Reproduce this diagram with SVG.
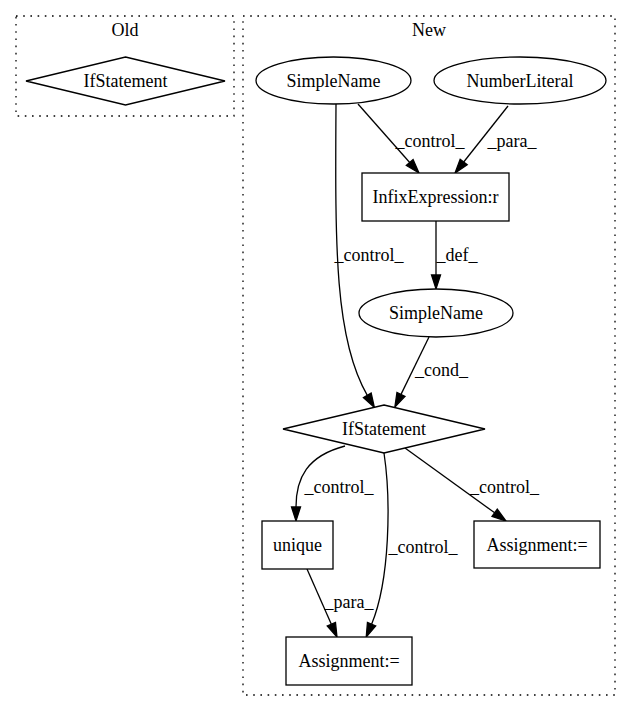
<svg xmlns="http://www.w3.org/2000/svg" width="632" height="712" viewBox="0 0 632 712">
<style>
.cl{fill:none;stroke:#000;stroke-width:1.3;stroke-dasharray:1.6,5.6}
.nd{fill:#fff;stroke:#000;stroke-width:1.3}
.e{fill:none;stroke:#000;stroke-width:1.3}
text{font-family:"Liberation Serif","Times New Roman",serif;font-size:18px;fill:#000;text-anchor:middle}
</style>
<defs>
<marker id="ah" markerUnits="userSpaceOnUse" markerWidth="16" markerHeight="12" refX="0" refY="5" orient="auto" overflow="visible">
<path d="M0,0.5 L14,5 L0,9.5 z" fill="#000" stroke="#000" stroke-width="1.3"/>
</marker>
</defs>
<rect width="632" height="712" fill="#fff"/>
<g id="cluster_old">
<rect class="cl" x="16" y="16" width="218" height="100"/>
<text x="125" y="36">Old</text>
</g>
<g id="cluster_new">
<rect class="cl" x="243" y="16" width="372" height="679"/>
<text x="429" y="36">New</text>
</g>
<g id="edges">
<path class="e" d="M358,104 L409.7,162.5" marker-end="url(#ah)"/>
<text x="430" y="147">_control_</text>
<path class="e" d="M508,106 L463.7,162" marker-end="url(#ah)"/>
<text x="512" y="147">_para_</text>
<path class="e" d="M436,221 L436,275" marker-end="url(#ah)"/>
<text x="457" y="261">_def_</text>
<path class="e" d="M336,104 C335,250 335,340 367.3,395.3" marker-end="url(#ah)"/>
<text x="369" y="261">_control_</text>
<path class="e" d="M429,337 L401,394.4" marker-end="url(#ah)"/>
<text x="441.5" y="376">_cond_</text>
<path class="e" d="M345,446 C307,456 296,478 296,507" marker-end="url(#ah)"/>
<text x="339" y="493">_control_</text>
<path class="e" d="M384,453 C391,500 390,580 371.6,624.2" marker-end="url(#ah)"/>
<text x="423" y="553">_control_</text>
<path class="e" d="M405,448 L494.65,512.8" marker-end="url(#ah)"/>
<text x="504.5" y="493">_control_</text>
<path class="e" d="M307,569 L331.35,624.2" marker-end="url(#ah)"/>
<text x="349" y="608">_para_</text>
</g>
<g id="old_ifstatement">
<polygon class="nd" points="125.5,57 225,81 125.5,105 26,81"/>
<text x="125.5" y="87">IfStatement</text>
</g>
<g id="simplename_top">
<ellipse class="nd" cx="333.5" cy="80.5" rx="77.5" ry="23.5"/>
<text x="333.5" y="86.5">SimpleName</text>
</g>
<g id="numberliteral">
<ellipse class="nd" cx="520" cy="80.5" rx="86" ry="23.5"/>
<text x="520" y="86.5">NumberLiteral</text>
</g>
<g id="infixexpression">
<rect class="nd" x="362" y="173" width="147" height="48"/>
<text x="435.5" y="203">InfixExpression:r</text>
</g>
<g id="simplename_mid">
<ellipse class="nd" cx="436" cy="313" rx="77" ry="24"/>
<text x="436" y="319">SimpleName</text>
</g>
<g id="new_ifstatement">
<polygon class="nd" points="384,405 485,429 384,453 283,429"/>
<text x="384" y="435">IfStatement</text>
</g>
<g id="unique">
<rect class="nd" x="262" y="521" width="71" height="48"/>
<text x="297.5" y="551">unique</text>
</g>
<g id="assignment_right">
<rect class="nd" x="474" y="521" width="126" height="47"/>
<text x="537" y="551">Assignment:=</text>
</g>
<g id="assignment_bottom">
<rect class="nd" x="286" y="637" width="126" height="48"/>
<text x="349" y="667">Assignment:=</text>
</g>
</svg>
